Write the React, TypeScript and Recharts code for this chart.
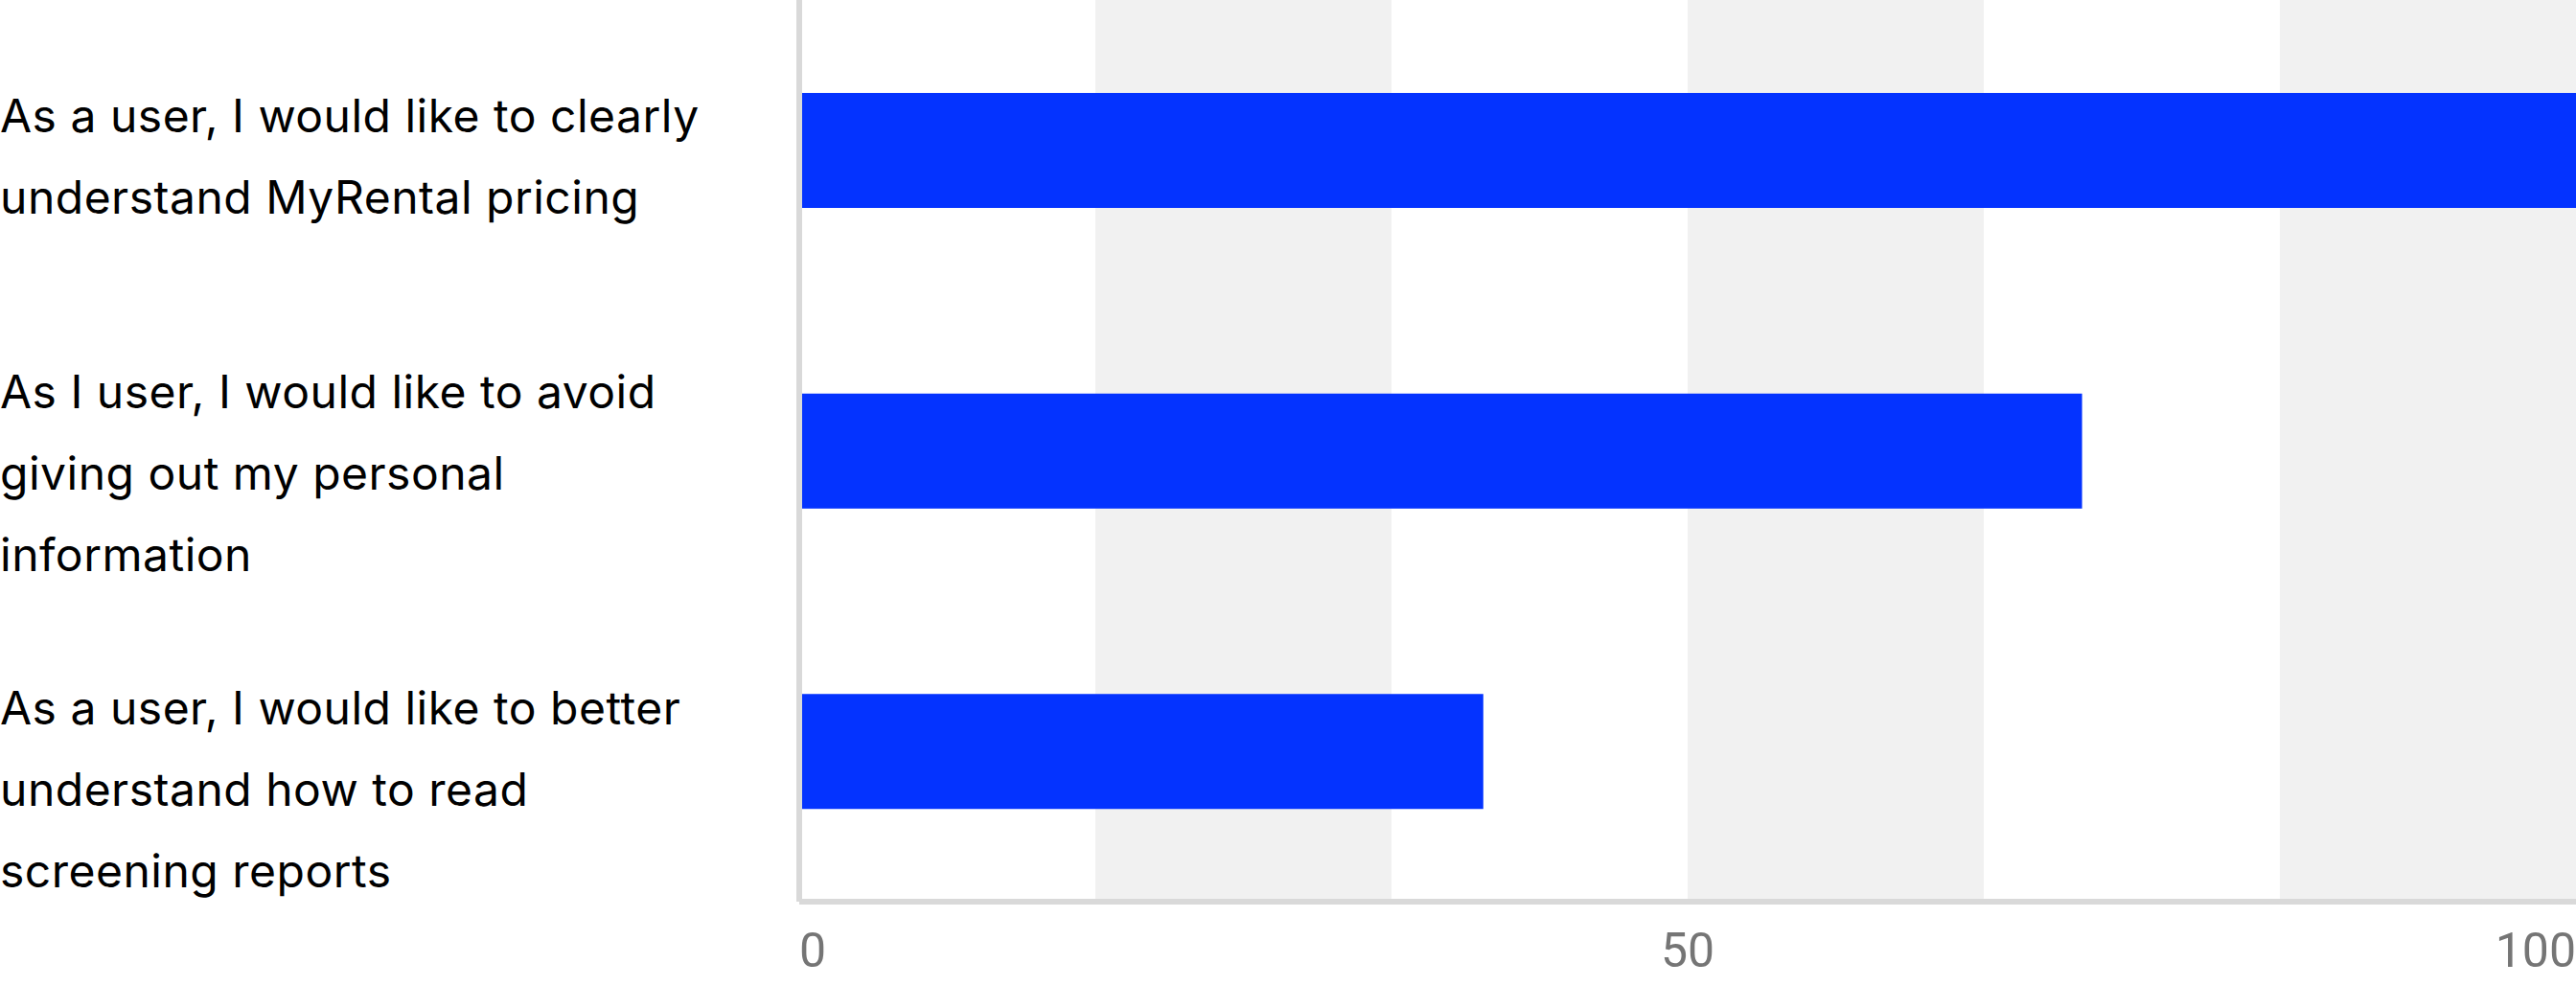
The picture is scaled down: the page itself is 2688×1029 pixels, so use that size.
import React from 'react';
import { BarChart, Bar, XAxis, YAxis, CartesianGrid } from 'recharts';

const categories = [
  'As a user, I would like to clearly understand MyRental pricing',
  'As I user, I would like to avoid giving out my personal information',
  'As a user, I would like to better understand how to read screening reports',
];

const categoryLines = [
  ['As a user, I would like to clearly', 'understand MyRental pricing'],
  ['As I user, I would like to avoid', 'giving out my personal', 'information'],
  ['As a user, I would like to better', 'understand how to read', 'screening reports'],
];

const values = [100, 72.2, 38.5];

const gridTicks = [0, 16.667, 33.333, 50, 66.667, 83.333, 100];
const labelTicks = [0, 50, 100];

const data = categories.map((c, i) => ({ category: c, value: values[i] }));

const LINE_H = 85;

const YTick = (props: any) => {
  const { y, payload } = props;
  const idx = categories.indexOf(payload.value);
  const lines = idx >= 0 ? categoryLines[idx] : [String(payload.value)];
  const first = y - ((lines.length - 1) * LINE_H) / 2 + 17 + 7 + 16.5 * Math.max(idx, 0);
  return (
    <text
      x={0}
      y={first}
      fill="#000000"
      fontFamily="Inter, 'Noto Sans', sans-serif"
      fontSize={48}
      letterSpacing={0.5}
      textAnchor="start"
    >
      {lines.map((l, k) => (
        <tspan key={k} x={0} y={first + k * LINE_H}>
          {l}
        </tspan>
      ))}
    </text>
  );
};

const XTick = (props: any) => {
  const { x, y, payload } = props;
  const v = payload.value;
  if (!labelTicks.includes(v)) return <g />;
  const anchor = v === labelTicks[0] ? 'start' : v === labelTicks[labelTicks.length - 1] ? 'end' : 'middle';
  return (
    <text x={x} y={y + 66} textAnchor={anchor} fill="#757575" fontFamily="Roboto, 'Open Sans', sans-serif" fontSize={50}>
      {v}
    </text>
  );
};

export default function App() {
  return (
    <div style={{ position: 'absolute', left: 0, top: 0, width: 2688, height: 1029, background: '#ffffff' }}>
      <BarChart
        width={2688}
        height={1029}
        data={data}
        layout="vertical"
        margin={{ top: 0, right: 0, bottom: 0, left: 0 }}
        barSize={120}
      >
        <CartesianGrid horizontal={false} vertical={true} stroke="none" verticalFill={['#ffffff', '#f1f1f1']} />
        <XAxis
          type="number"
          domain={[0, 100]}
          ticks={gridTicks}
          interval={0}
          tick={<XTick />}
          tickLine={false}
          tickSize={0}
          height={88}
          axisLine={{ stroke: '#d9d9d9', strokeWidth: 6 }}
        />
        <YAxis
          type="category"
          dataKey="category"
          width={834}
          interval={0}
          tick={<YTick />}
          tickLine={false}
          tickSize={0}
          axisLine={{ stroke: '#d9d9d9', strokeWidth: 6 }}
        />
        <Bar dataKey="value" fill="#0433ff" isAnimationActive={false} />
      </BarChart>
    </div>
  );
}
